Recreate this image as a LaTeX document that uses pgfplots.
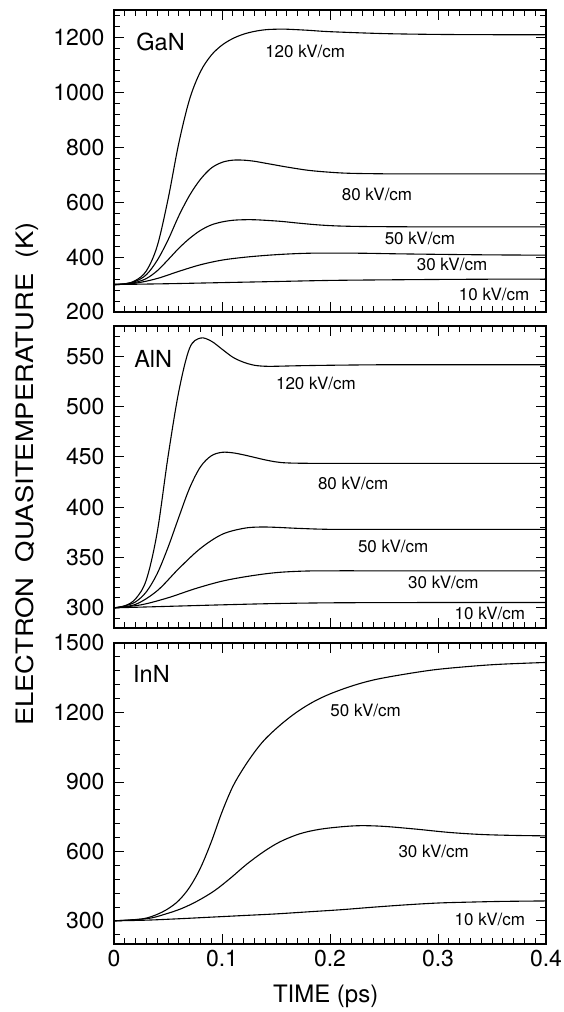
\documentclass[border=0pt]{standalone}
\usepackage{fontspec}
\setmainfont{TeX Gyre Heros}
\usepackage{pgfplots}
\pgfplotsset{compat=1.18}
\pgfplotsset{
  panel/.style={
    scale only axis, width=432pt,
    xmin=0, xmax=0.4,
    xtick={0,0.1,0.2,0.3,0.4},
    minor x tick num=9,
    tick align=inside,
    xtick pos=both, ytick pos=both,
    major tick length=10pt, minor tick length=6pt,
    axis line style={line width=1.8pt},
    every tick/.style={black, line width=0.8pt},
    tick label style={font=\fontsize{23}{26}\selectfont},
    /pgf/number format/assume math mode=true,
    /pgf/number format/1000 sep={},
    yticklabel style={xshift=-6pt},
    xticklabel style={yshift=-3pt},
  },
}
\tikzset{
  crv/.style={black, line width=1.1pt, smooth, tension=0.55},
  lab/.style={font=\fontsize{17}{20}\selectfont},
  mat/.style={font=\fontsize{23.5}{26}\selectfont, anchor=west},
}
\begin{document}
\begin{tikzpicture}
\useasboundingbox (0,0) rectangle (563pt,1012pt);
% ---------------- GaN ----------------
\begin{axis}[panel, at={(114pt,700pt)}, anchor=south west, height=302pt,
  ymin=200, ymax=1300, ytick={200,400,600,800,1000,1200},
  minor ytick={200,240,...,1300}, xticklabels={}]
% 120 kV/cm
\addplot[crv] coordinates {(0,300) (0.01,302) (0.02,315) (0.03,350) (0.04,440) (0.05,610) (0.06,815) (0.07,975) (0.08,1075) (0.09,1135) (0.1,1172) (0.11,1196) (0.12,1212) (0.13,1222) (0.14,1228) (0.15,1230) (0.16,1230) (0.18,1226) (0.2,1221) (0.25,1214) (0.3,1211) (0.35,1210) (0.4,1210)};
% 80 kV/cm
\addplot[crv] coordinates {(0,300) (0.01,303) (0.02,312) (0.03,336) (0.04,388) (0.05,462) (0.06,550) (0.07,625) (0.08,683) (0.09,724) (0.1,745) (0.11,753) (0.12,753) (0.13,749) (0.14,742) (0.15,735) (0.16,728) (0.18,716) (0.2,709) (0.22,705) (0.26,703) (0.3,703) (0.4,703)};
% 50 kV/cm
\addplot[crv] coordinates {(0,300) (0.01,302) (0.02,308) (0.03,322) (0.04,350) (0.05,390) (0.06,432) (0.07,468) (0.08,497) (0.09,517) (0.1,528) (0.11,534) (0.12,536) (0.13,536) (0.14,534) (0.155,530) (0.17,524) (0.19,517) (0.21,513) (0.24,511) (0.3,510) (0.4,510)};
% 30 kV/cm
\addplot[crv] coordinates {(0,300) (0.02,305) (0.04,322) (0.06,348) (0.08,372) (0.1,389) (0.12,399) (0.14,406) (0.16,411) (0.18,414) (0.2,414.5) (0.23,414) (0.26,412) (0.3,410) (0.35,408) (0.4,407)};
% 10 kV/cm
\addplot[crv] coordinates {(0,300) (0.05,303) (0.1,307) (0.15,311) (0.2,315) (0.25,317) (0.3,318.5) (0.35,319.5) (0.4,320)};
\node[mat] at (axis cs:0.0175,1182) {GaN};
\node[lab] at (axis cs:0.177,1149) {120 kV/cm};
\node[lab] at (axis cs:0.2435,627) {80 kV/cm};
\node[lab] at (axis cs:0.2833,467) {50 kV/cm};
\node[lab] at (axis cs:0.313,372) {30 kV/cm};
\node[lab] at (axis cs:0.352,262) {10 kV/cm};
\end{axis}
% ---------------- AlN ----------------
\begin{axis}[panel, at={(114pt,384pt)}, anchor=south west, height=302pt,
  ymin=280, ymax=580, ytick={300,350,400,450,500,550},
  minor ytick={280,290,...,580}, xticklabels={},
  ylabel={\scalebox{1.14}[1]{ELECTRON\ \ QUASITEMPERATURE\ \ (K)}},
  ylabel style={font=\fontsize{24}{28}\selectfont, at={(axis description cs:-0.1875,0.51)}, anchor=base}]
% 120 kV/cm
\addplot[crv] coordinates {(0,300) (0.01,302) (0.02,309) (0.03,328) (0.04,375) (0.05,450) (0.06,515) (0.07,558) (0.08,568) (0.09,565) (0.1,557) (0.11,549) (0.12,544) (0.13,541) (0.14,540) (0.15,540) (0.17,540.5) (0.2,541) (0.25,541.5) (0.3,541.5) (0.4,541.5)};
% 80 kV/cm
\addplot[crv] coordinates {(0,300) (0.01,302) (0.02,306) (0.03,316) (0.04,334) (0.05,360) (0.06,390) (0.07,419) (0.08,440) (0.09,451) (0.1,454.5) (0.11,454) (0.12,452) (0.13,449.5) (0.14,447) (0.15,445) (0.16,444) (0.18,443.6) (0.22,443.6) (0.3,443.6) (0.4,443.6)};
% 50 kV/cm
\addplot[crv] coordinates {(0,300) (0.02,303.5) (0.04,317) (0.06,339) (0.08,359) (0.1,373) (0.12,379) (0.135,380.3) (0.15,380) (0.17,379) (0.2,378) (0.25,378) (0.3,378) (0.4,378)};
% 30 kV/cm
\addplot[crv] coordinates {(0,300) (0.025,303) (0.05,310) (0.075,319) (0.1,326.5) (0.125,331.5) (0.15,335) (0.175,336.5) (0.2,336.8) (0.25,336.8) (0.3,336.8) (0.4,336.8)};
% 10 kV/cm
\addplot[crv] coordinates {(0,300) (0.05,301.5) (0.1,303) (0.15,304.3) (0.2,305) (0.25,305.2) (0.3,305.3) (0.4,305.3)};
\node[mat] at (axis cs:0.0155,547) {AlN};
\node[lab] at (axis cs:0.187,522.7) {120 kV/cm};
\node[lab] at (axis cs:0.2215,423.7) {80 kV/cm};
\node[lab] at (axis cs:0.2585,361) {50 kV/cm};
\node[lab] at (axis cs:0.305,325.6) {30 kV/cm};
\node[lab] at (axis cs:0.348,294) {10 kV/cm};
\end{axis}
% ---------------- InN ----------------
\begin{axis}[panel, at={(114pt,68pt)}, anchor=south west, height=301pt,
  ymin=200, ymax=1500, ytick={300,600,900,1200,1500},
  minor ytick={240,300,...,1500},
  xlabel={TIME (ps)},
  xlabel style={font=\fontsize{24}{28}\selectfont, at={(axis description cs:0.49,-0.1927)}, anchor=base}]
% 50 kV/cm
\addplot[crv] coordinates {(0,300) (0.02,305) (0.03,312) (0.04,328) (0.05,352) (0.06,388) (0.07,445) (0.08,528) (0.09,640) (0.1,770) (0.11,880) (0.12,960) (0.13,1028) (0.14,1085) (0.155,1150) (0.17,1204) (0.185,1247) (0.2,1280) (0.22,1314) (0.24,1340) (0.265,1362) (0.296,1384) (0.327,1398) (0.357,1408) (0.4,1416)};
% 30 kV/cm
\addplot[crv] coordinates {(0,300) (0.031,310) (0.046,327) (0.062,352) (0.077,385) (0.093,430) (0.108,485) (0.123,545) (0.139,600) (0.154,642) (0.172,676) (0.19,695) (0.21,706) (0.228,711) (0.25,708) (0.28,696) (0.31,682) (0.34,673) (0.37,669) (0.4,667)};
% 10 kV/cm
\addplot[crv] coordinates {(0,300) (0.03,303) (0.06,309) (0.09,316) (0.12,323) (0.15,330) (0.18,339) (0.21,348) (0.24,359) (0.27,369) (0.3,377) (0.33,381) (0.36,384) (0.4,386)};
\node[mat] at (axis cs:0.0145,1366) {InN};
\node[lab] at (axis cs:0.233,1209) {50 kV/cm};
\node[lab] at (axis cs:0.296,600) {30 kV/cm};
\node[lab] at (axis cs:0.348,304) {10 kV/cm};
\end{axis}
\end{tikzpicture}
\end{document}
